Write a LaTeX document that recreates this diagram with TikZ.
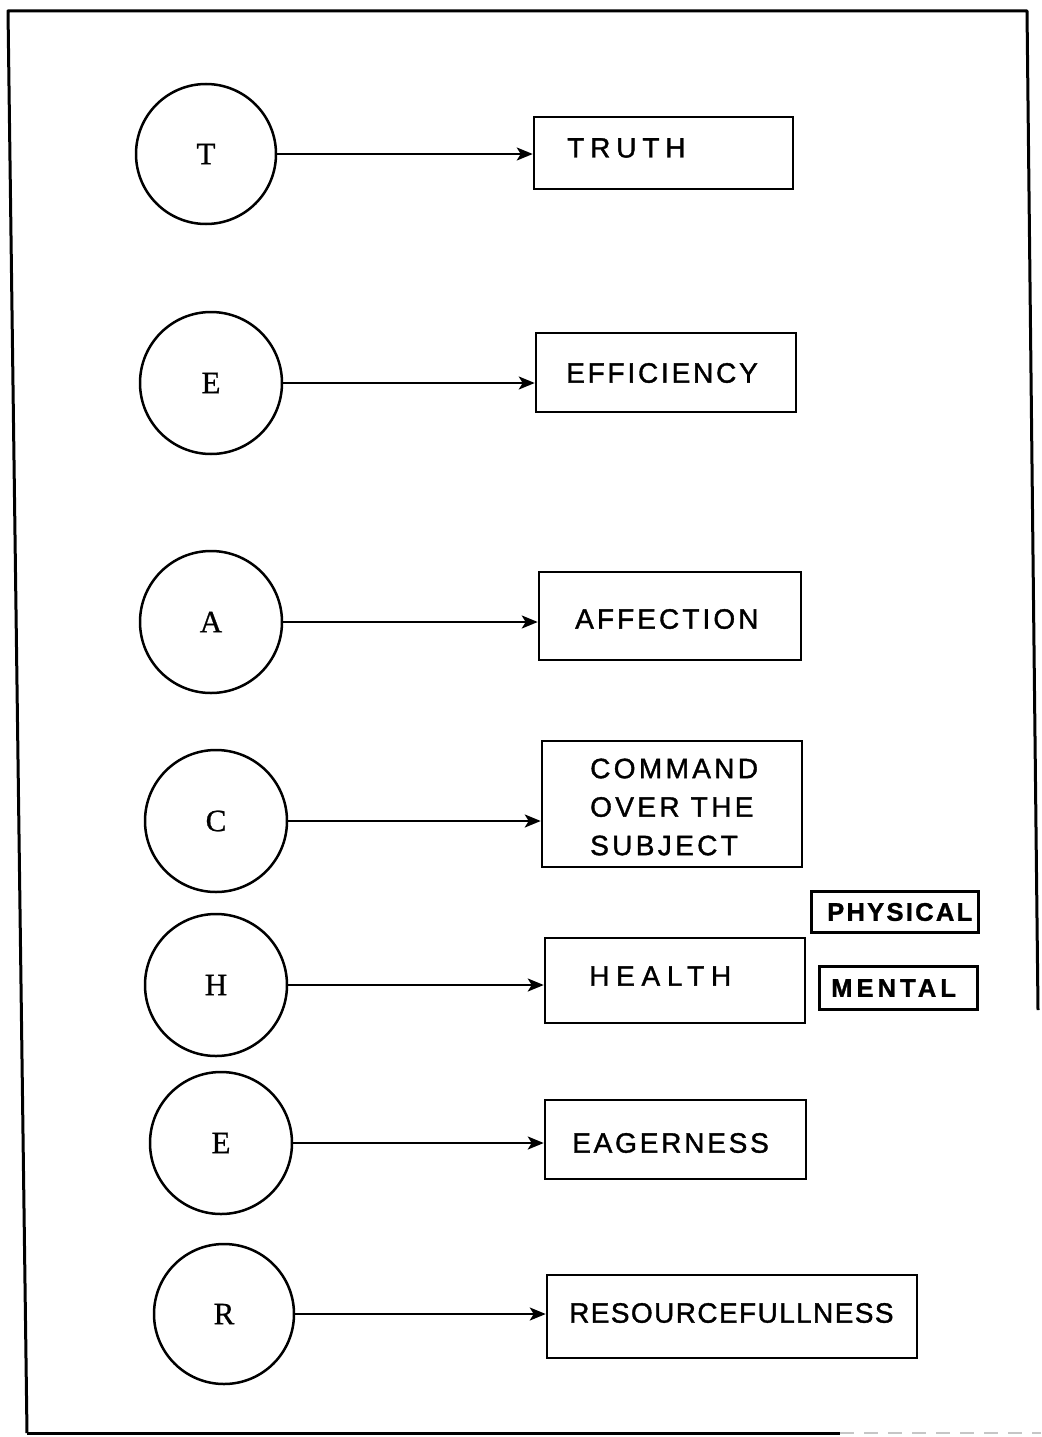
\documentclass[tikz,border=0pt]{standalone}
\usepackage{fontspec}
\newfontfamily\lblfont[FakeBold=1.3]{Liberation Sans}
\newfontfamily\circfont[FakeBold=0.8]{Liberation Serif}
\usetikzlibrary{arrows.meta}
\tikzset{
  circ/.style={circle, draw, line width=2.5pt, inner sep=0pt, minimum size=#1pt,
    font=\circfont\fontsize{31}{31}\selectfont},
  rbox/.style={draw, rectangle, line width=2.5pt, inner sep=0pt},
  sbox/.style={draw, rectangle, line width=3pt, inner sep=0pt},
  txt/.style={anchor=west, inner sep=0pt, align=left,
    font=\lblfont\fontsize{28}{38.5}\selectfont\addfontfeatures{LetterSpace=#1}},
  stxt/.style={anchor=west, inner sep=0pt,
    font=\lblfont\bfseries\fontsize{25.5}{30}\selectfont\addfontfeatures{LetterSpace=#1}},
  arr/.style={line width=2.5pt, -{Stealth[length=16pt,width=13pt,inset=4pt]}},
  frame/.style={line width=3pt, line join=round}
}
\begin{document}
\begin{tikzpicture}[x=1pt, y=-1pt]
\useasboundingbox (0,0) rectangle (1041,1437);

% frame
\coordinate (fbl) at (27,1433);
\coordinate (ftl) at (8,11);
\coordinate (ftr) at (1027,11);
\coordinate (fr) at (1038,1010);
\coordinate (fbm) at (840,1433);
\coordinate (fbr) at (1041,1433);
\draw[frame] (fbl) -- (ftl) -- (ftr) -- (fr);
\draw[frame] (fbl) -- (fbm);
\draw[line width=2pt, gray!45, dash pattern=on 14pt off 10pt] (fbm) -- (fbr);

% circles
\node[circ=140] (c1) at (206,154) {T};
\node[circ=142] (c2) at (211,383) {E};
\node[circ=142] (c3) at (211,622) {A};
\node[circ=142] (c4) at (216,821) {C};
\node[circ=142] (c5) at (216,985) {H};
\node[circ=142] (c6) at (221,1143) {E};
\node[circ=140] (c7) at (224,1314) {R};

% boxes
\node[rbox, minimum width=259pt, minimum height=72pt]  (b1) at (663.5,153) {};
\node[rbox, minimum width=260pt, minimum height=79pt]  (b2) at (666,372.5) {};
\node[rbox, minimum width=262pt, minimum height=88pt]  (b3) at (670,616) {};
\node[rbox, minimum width=260pt, minimum height=126pt] (b4) at (672,804) {};
\node[rbox, minimum width=260pt, minimum height=85pt]  (b5) at (675,980.5) {};
\node[rbox, minimum width=261pt, minimum height=79pt]  (b6) at (675.5,1139.5) {};
\node[rbox, minimum width=370pt, minimum height=83pt]  (b7) at (732,1316.5) {};
\node[sbox, minimum width=167pt, minimum height=41pt]  (bp) at (894.5,911.5) {};
\node[sbox, minimum width=158pt, minimum height=43pt]  (bm) at (898,987.5) {};

% box texts
\node[txt=21] (t1) at (567,148) {TRUTH};
\node[txt=10] (t2) at (566,373) {EFFICIENCY};
\node[txt=11] (t3) at (575,619) {AFFECTION};
\node[txt=12] (t4) at (590,807) {COMMAND\\OVER THE\\SUBJECT};
\node[txt=24] (t5) at (589,976) {HEALTH};
\node[txt=10] (t6) at (572,1143) {EAGERNESS};
\node[txt=5]  (t7) at (569,1313) {RESOURCEFULLNESS};
\node[stxt=9]  (tp) at (827,912) {PHYSICAL};
\node[stxt=16] (tm) at (831,988) {MENTAL};

% arrows
\draw[arr] (c1) -- (c1 -| b1.west);
\draw[arr] (c2) -- (c2 -| b2.west);
\draw[arr] (c3) -- (c3 -| b3.west);
\draw[arr] (c4) -- (c4 -| b4.west);
\draw[arr] (c5) -- (c5 -| b5.west);
\draw[arr] (c6) -- (c6 -| b6.west);
\draw[arr] (c7) -- (c7 -| b7.west);
\end{tikzpicture}
\end{document}
